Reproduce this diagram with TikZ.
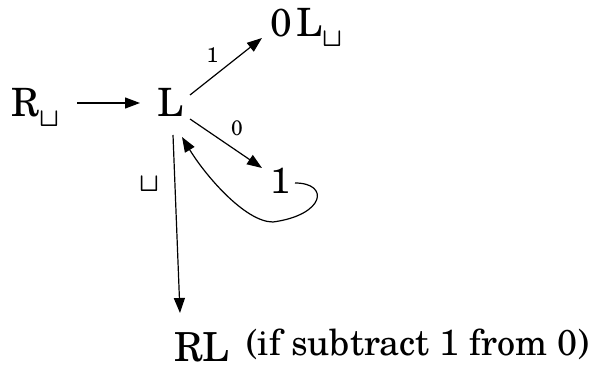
\documentclass[tikz,border=0pt]{standalone}
\usepackage{fontspec}
\setmainfont{TeX Gyre Schola}
\newcommand{\cupglyph}[1]{\scalebox{#1}{\fontsize{10}{12}\selectfont\boldmath$\sqcup$}}
\newcommand{\cupsub}{\raisebox{-10pt}{\cupglyph{2.6}}}
\usetikzlibrary{arrows.meta,calc}
\begin{document}
\begin{tikzpicture}[x=1pt,y=-1pt,
  txt/.style={inner sep=0pt,outer sep=0pt,anchor=base west,font=\fontsize{39}{42}\selectfont},
  lbl/.style={inner sep=0pt,outer sep=0pt,anchor=center,font=\fontsize{21}{24}\selectfont},
  arr/.style={line width=1.2pt,-{Triangle[length=15pt,width=11pt]}}]
\useasboundingbox (0,0) rectangle (596,366);
\node[txt] (R) at (11,117) {R\cupsub};
\node[txt] (L) at (157,117) {L};
\node[txt] (oL) at (270.5,37) {0\kern4ptL\cupsub};
\node[txt,font=\fontsize{36}{40}\selectfont] (one) at (270.5,193) {1};
\node[txt,font=\fontsize{40}{42}\selectfont] (RL) at (174,361.5) {RL};
\node[txt,font=\fontsize{36}{40}\selectfont] (paren) at (246,355) {(if subtract 1 from 0)};
\node[lbl] (l1) at (212.5,55.5) {1};
\node[lbl] (l0) at (237,128) {0};
\node[lbl] (lb) at (149,184) {\cupglyph{2.6}};
\draw[arr] ($(R.base west)+(66,-14)$) -- ($(L.base west)+(-17,-14)$);
\draw[arr] ($(L.base west)+(33,-22)$) -- ($(oL.base west)+(-8.5,1)$);
\draw[arr] ($(L.base west)+(33,2)$) -- ($(one.base west)+(-8.5,-25)$);
\draw[arr] ($(L.base west)+(16,18)$) -- ($(RL.base west)+(6,-48.5)$);
\draw[arr] ($(one.base west)+(24.5,-10)$) .. controls +(35,0) and +(52,-7) .. ++(-22,39)
  .. controls +(-28,0) and +(23,38) .. ($(L.base west)+(25,20)$);
\end{tikzpicture}
\end{document}
